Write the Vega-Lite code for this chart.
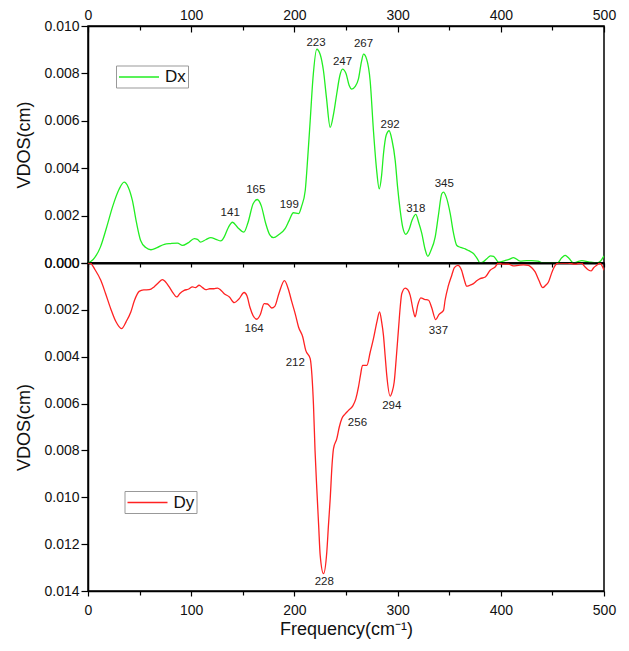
{
"$schema": "https://vega.github.io/schema/vega-lite/v6.json",
"background": "white",
"padding": {"left": 15, "top": 5, "right": 5, "bottom": 5},
"config": {
  "font": "Liberation Sans",
  "view": {"stroke": "black", "strokeWidth": 1.5},
  "axis": {"domainColor": "black", "tickColor": "black", "labelColor": "#111", "titleColor": "#111", "labelFont": "Liberation Sans", "titleFont": "Liberation Sans", "labelFontSize": 14, "titleFontSize": 18, "titleFontWeight": "normal", "grid": false, "domainWidth": 1.5, "tickWidth": 1.2},
  "legend": {"title": null, "orient": "none", "symbolType": "M-1,0H3.706", "symbolSize": 289, "symbolStrokeWidth": 1.5, "labelFontSize": 17, "labelFont": "Liberation Sans", "labelColor": "#111", "labelOffset": 28, "padding": 2, "strokeColor": "#999", "fillColor": "white"}
},
"datasets": {
  "vdos": [
    {"s":"Dx","f":0,"v":0},{"s":"Dx","f":5,"v":0.00015},{"s":"Dx","f":12,"v":0.00067},{"s":"Dx","f":18,"v":0.0015},{"s":"Dx","f":24,"v":0.0024},{"s":"Dx","f":30,"v":0.0031},{"s":"Dx","f":35,"v":0.00341},{"s":"Dx","f":39,"v":0.0032},{"s":"Dx","f":43,"v":0.00264},{"s":"Dx","f":47,"v":0.0017},{"s":"Dx","f":51,"v":0.00095},{"s":"Dx","f":56,"v":0.00065},{"s":"Dx","f":61,"v":0.00056},{"s":"Dx","f":67,"v":0.00065},{"s":"Dx","f":74,"v":0.00079},{"s":"Dx","f":80,"v":0.00082},{"s":"Dx","f":86.7,"v":0.00084},{"s":"Dx","f":91.6,"v":0.00074},{"s":"Dx","f":97,"v":0.00085},{"s":"Dx","f":103,"v":0.00103},{"s":"Dx","f":106,"v":0.001},{"s":"Dx","f":109,"v":0.00088},{"s":"Dx","f":114,"v":0.00098},{"s":"Dx","f":119,"v":0.00107},{"s":"Dx","f":124,"v":0.001},{"s":"Dx","f":128.7,"v":0.00093},{"s":"Dx","f":132,"v":0.0011},{"s":"Dx","f":136,"v":0.0015},{"s":"Dx","f":140,"v":0.00172},{"s":"Dx","f":145,"v":0.0015},{"s":"Dx","f":151,"v":0.0013},{"s":"Dx","f":155,"v":0.0017},{"s":"Dx","f":160,"v":0.0025},{"s":"Dx","f":164,"v":0.00268},{"s":"Dx","f":168,"v":0.0024},{"s":"Dx","f":172,"v":0.0017},{"s":"Dx","f":176,"v":0.0012},{"s":"Dx","f":179.7,"v":0.00107},{"s":"Dx","f":185,"v":0.0012},{"s":"Dx","f":191,"v":0.00145},{"s":"Dx","f":195,"v":0.0018},{"s":"Dx","f":199,"v":0.00212},{"s":"Dx","f":204,"v":0.00208},{"s":"Dx","f":207,"v":0.0024},{"s":"Dx","f":210.5,"v":0.00306},{"s":"Dx","f":213,"v":0.0045},{"s":"Dx","f":215.3,"v":0.006},{"s":"Dx","f":218,"v":0.0078},{"s":"Dx","f":221.7,"v":0.00902},{"s":"Dx","f":225,"v":0.0088},{"s":"Dx","f":228.2,"v":0.0081},{"s":"Dx","f":231,"v":0.007},{"s":"Dx","f":234.7,"v":0.00572},{"s":"Dx","f":238,"v":0.0063},{"s":"Dx","f":241,"v":0.00713},{"s":"Dx","f":244,"v":0.0079},{"s":"Dx","f":246.6,"v":0.00818},{"s":"Dx","f":250,"v":0.008},{"s":"Dx","f":253,"v":0.0075},{"s":"Dx","f":255.6,"v":0.00734},{"s":"Dx","f":259,"v":0.00745},{"s":"Dx","f":262,"v":0.00776},{"s":"Dx","f":265,"v":0.0085},{"s":"Dx","f":267,"v":0.00881},{"s":"Dx","f":270,"v":0.0086},{"s":"Dx","f":273.4,"v":0.00769},{"s":"Dx","f":276.6,"v":0.00558},{"s":"Dx","f":279.5,"v":0.004},{"s":"Dx","f":282.2,"v":0.00313},{"s":"Dx","f":284.5,"v":0.0037},{"s":"Dx","f":286.3,"v":0.0046},{"s":"Dx","f":289,"v":0.0054},{"s":"Dx","f":291.8,"v":0.00558},{"s":"Dx","f":294.5,"v":0.0052},{"s":"Dx","f":297.7,"v":0.00432},{"s":"Dx","f":300,"v":0.0032},{"s":"Dx","f":302.5,"v":0.00222},{"s":"Dx","f":305,"v":0.0015},{"s":"Dx","f":308,"v":0.00121},{"s":"Dx","f":311,"v":0.0014},{"s":"Dx","f":314,"v":0.0018},{"s":"Dx","f":317.6,"v":0.00205},{"s":"Dx","f":320.5,"v":0.0017},{"s":"Dx","f":323.5,"v":0.00124},{"s":"Dx","f":326.5,"v":0.0006},{"s":"Dx","f":329.3,"v":0.00028},{"s":"Dx","f":332,"v":0.0005},{"s":"Dx","f":336.4,"v":0.00109},{"s":"Dx","f":339.5,"v":0.002},{"s":"Dx","f":342.8,"v":0.00292},{"s":"Dx","f":344.5,"v":0.00299},{"s":"Dx","f":347,"v":0.0028},{"s":"Dx","f":351,"v":0.00208},{"s":"Dx","f":354,"v":0.0013},{"s":"Dx","f":357.4,"v":0.00074},{"s":"Dx","f":361,"v":0.00066},{"s":"Dx","f":365.5,"v":0.0006},{"s":"Dx","f":369,"v":0.00052},{"s":"Dx","f":373.5,"v":0.0004},{"s":"Dx","f":377,"v":0.0002},{"s":"Dx","f":380,"v":0},{"s":"Dx","f":383,"v":0.00005},{"s":"Dx","f":386.4,"v":0.00018},{"s":"Dx","f":390,"v":0.0003},{"s":"Dx","f":393,"v":0.00028},{"s":"Dx","f":397.8,"v":0.00004},{"s":"Dx","f":404,"v":0.0001},{"s":"Dx","f":408,"v":0.00015},{"s":"Dx","f":412.3,"v":0.00023},{"s":"Dx","f":418.7,"v":0.00008},{"s":"Dx","f":425,"v":0.0001},{"s":"Dx","f":430,"v":0.0001},{"s":"Dx","f":436,"v":0.00008},{"s":"Dx","f":441,"v":0},{"s":"Dx","f":448,"v":0},{"s":"Dx","f":455,"v":0},{"s":"Dx","f":459,"v":0.00022},{"s":"Dx","f":462.4,"v":0.00032},{"s":"Dx","f":466,"v":0.0002},{"s":"Dx","f":470.5,"v":0},{"s":"Dx","f":474,"v":0.00005},{"s":"Dx","f":478.6,"v":0.0001},{"s":"Dx","f":485,"v":0.00005},{"s":"Dx","f":493,"v":0},{"s":"Dx","f":497,"v":0.0001},{"s":"Dx","f":500,"v":0.0003},
    {"s":"Dy","f":0,"v":0},{"s":"Dy","f":2,"v":0},{"s":"Dy","f":7,"v":0.0003},{"s":"Dy","f":12.4,"v":0.00074},{"s":"Dy","f":17,"v":0.0013},{"s":"Dy","f":22,"v":0.00195},{"s":"Dy","f":27,"v":0.0025},{"s":"Dy","f":32.5,"v":0.0028},{"s":"Dy","f":37,"v":0.0025},{"s":"Dy","f":41.5,"v":0.00209},{"s":"Dy","f":45,"v":0.0016},{"s":"Dy","f":49.6,"v":0.00121},{"s":"Dy","f":54,"v":0.00115},{"s":"Dy","f":59.3,"v":0.00114},{"s":"Dy","f":64,"v":0.00102},{"s":"Dy","f":68,"v":0.00085},{"s":"Dy","f":72.2,"v":0.00071},{"s":"Dy","f":75,"v":0.0008},{"s":"Dy","f":78.7,"v":0.00102},{"s":"Dy","f":82,"v":0.00125},{"s":"Dy","f":86,"v":0.00145},{"s":"Dy","f":89,"v":0.0013},{"s":"Dy","f":93.2,"v":0.00117},{"s":"Dy","f":97,"v":0.00112},{"s":"Dy","f":101.3,"v":0.00102},{"s":"Dy","f":104,"v":0.00105},{"s":"Dy","f":107.7,"v":0.00095},{"s":"Dy","f":111,"v":0.00105},{"s":"Dy","f":114.2,"v":0.00114},{"s":"Dy","f":118,"v":0.0011},{"s":"Dy","f":122,"v":0.0011},{"s":"Dy","f":125.5,"v":0.00107},{"s":"Dy","f":128.5,"v":0.00115},{"s":"Dy","f":132,"v":0.00131},{"s":"Dy","f":137,"v":0.00145},{"s":"Dy","f":141.7,"v":0.00169},{"s":"Dy","f":146,"v":0.00155},{"s":"Dy","f":151.3,"v":0.00126},{"s":"Dy","f":154,"v":0.0014},{"s":"Dy","f":157,"v":0.0019},{"s":"Dy","f":160,"v":0.00225},{"s":"Dy","f":163.6,"v":0.0024},{"s":"Dy","f":167,"v":0.0022},{"s":"Dy","f":170.7,"v":0.00173},{"s":"Dy","f":174,"v":0.00175},{"s":"Dy","f":178,"v":0.00192},{"s":"Dy","f":181,"v":0.00185},{"s":"Dy","f":185,"v":0.0013},{"s":"Dy","f":190.4,"v":0.00075},{"s":"Dy","f":194,"v":0.0011},{"s":"Dy","f":197.5,"v":0.00166},{"s":"Dy","f":201,"v":0.0022},{"s":"Dy","f":204,"v":0.00273},{"s":"Dy","f":208.1,"v":0.00316},{"s":"Dy","f":211,"v":0.00373},{"s":"Dy","f":215.3,"v":0.00408},{"s":"Dy","f":217,"v":0.0048},{"s":"Dy","f":218.5,"v":0.00607},{"s":"Dy","f":220,"v":0.008},{"s":"Dy","f":221.7,"v":0.00963},{"s":"Dy","f":223.5,"v":0.0112},{"s":"Dy","f":225,"v":0.01248},{"s":"Dy","f":228.2,"v":0.01326},{"s":"Dy","f":231.4,"v":0.01233},{"s":"Dy","f":233,"v":0.0112},{"s":"Dy","f":234.7,"v":0.01006},{"s":"Dy","f":236.5,"v":0.0086},{"s":"Dy","f":237.9,"v":0.00792},{"s":"Dy","f":241.1,"v":0.0075},{"s":"Dy","f":243.5,"v":0.007},{"s":"Dy","f":246,"v":0.00664},{"s":"Dy","f":249,"v":0.00645},{"s":"Dy","f":252.4,"v":0.00629},{"s":"Dy","f":256.6,"v":0.0061},{"s":"Dy","f":259.5,"v":0.0058},{"s":"Dy","f":262.1,"v":0.00529},{"s":"Dy","f":264,"v":0.0048},{"s":"Dy","f":266,"v":0.00437},{"s":"Dy","f":270.2,"v":0.00437},{"s":"Dy","f":273.5,"v":0.0038},{"s":"Dy","f":276.6,"v":0.00323},{"s":"Dy","f":280,"v":0.0025},{"s":"Dy","f":282.5,"v":0.00209},{"s":"Dy","f":284.5,"v":0.0025},{"s":"Dy","f":286.3,"v":0.00309},{"s":"Dy","f":288,"v":0.004},{"s":"Dy","f":289.5,"v":0.00479},{"s":"Dy","f":292.8,"v":0.00568},{"s":"Dy","f":294.7,"v":0.0055},{"s":"Dy","f":296.7,"v":0.00508},{"s":"Dy","f":298.8,"v":0.004},{"s":"Dy","f":300.9,"v":0.0028},{"s":"Dy","f":302.5,"v":0.0019},{"s":"Dy","f":304,"v":0.00131},{"s":"Dy","f":307.4,"v":0.00107},{"s":"Dy","f":310,"v":0.00115},{"s":"Dy","f":312.2,"v":0.00138},{"s":"Dy","f":315,"v":0.002},{"s":"Dy","f":317,"v":0.0023},{"s":"Dy","f":319.5,"v":0.0018},{"s":"Dy","f":322.5,"v":0.00149},{"s":"Dy","f":326,"v":0.00155},{"s":"Dy","f":330,"v":0.00159},{"s":"Dy","f":333,"v":0.0019},{"s":"Dy","f":337,"v":0.00242},{"s":"Dy","f":340,"v":0.0022},{"s":"Dy","f":344.5,"v":0.00202},{"s":"Dy","f":346,"v":0.00159},{"s":"Dy","f":349,"v":0.001},{"s":"Dy","f":352.5,"v":0.00052},{"s":"Dy","f":355,"v":0.0002},{"s":"Dy","f":358.4,"v":0.0001},{"s":"Dy","f":362,"v":0.00031},{"s":"Dy","f":364.5,"v":0.0007},{"s":"Dy","f":367,"v":0.00099},{"s":"Dy","f":370,"v":0.00095},{"s":"Dy","f":373.5,"v":0.00088},{"s":"Dy","f":377,"v":0.00075},{"s":"Dy","f":380,"v":0.00067},{"s":"Dy","f":385,"v":0.0006},{"s":"Dy","f":389.7,"v":0.00031},{"s":"Dy","f":394.5,"v":0.00017},{"s":"Dy","f":397.8,"v":0},{"s":"Dy","f":402,"v":0.00005},{"s":"Dy","f":407.5,"v":0.00005},{"s":"Dy","f":412,"v":0.00012},{"s":"Dy","f":417,"v":0.0001},{"s":"Dy","f":422,"v":0.00008},{"s":"Dy","f":426.8,"v":0.0001},{"s":"Dy","f":430,"v":0.0002},{"s":"Dy","f":433.3,"v":0.00038},{"s":"Dy","f":437,"v":0.00075},{"s":"Dy","f":440.7,"v":0.00105},{"s":"Dy","f":443.5,"v":0.00095},{"s":"Dy","f":446.2,"v":0.00081},{"s":"Dy","f":449.5,"v":0.0004},{"s":"Dy","f":452.7,"v":0.0001},{"s":"Dy","f":456,"v":0},{"s":"Dy","f":465,"v":0},{"s":"Dy","f":472,"v":0.00005},{"s":"Dy","f":478,"v":0},{"s":"Dy","f":481.7,"v":0.00017},{"s":"Dy","f":485,"v":0.0003},{"s":"Dy","f":487.6,"v":0.00034},{"s":"Dy","f":490,"v":0.0002},{"s":"Dy","f":493,"v":0.0001},{"s":"Dy","f":496,"v":0},{"s":"Dy","f":498.5,"v":0.00015},{"s":"Dy","f":500,"v":0.00031}
  ],
  "peaks": [
    {"s":"Dx","f":137.8,"v":0.0021,"label":"141"},{"s":"Dx","f":162.6,"v":0.00306,"label":"165"},{"s":"Dx","f":195,"v":0.00246,"label":"199"},{"s":"Dx","f":221,"v":0.0093,"label":"223"},{"s":"Dx","f":246.6,"v":0.00849,"label":"247"},{"s":"Dx","f":267,"v":0.00923,"label":"267"},{"s":"Dx","f":292.8,"v":0.00584,"label":"292"},{"s":"Dx","f":317.6,"v":0.00229,"label":"318"},{"s":"Dx","f":345.2,"v":0.00334,"label":"345"},
    {"s":"Dy","f":161,"v":0.00283,"label":"164"},{"s":"Dy","f":200.8,"v":0.00427,"label":"212"},{"s":"Dy","f":228.9,"v":0.01361,"label":"228"},{"s":"Dy","f":261.1,"v":0.00681,"label":"256"},{"s":"Dy","f":294.4,"v":0.00612,"label":"294"},{"s":"Dy","f":339.6,"v":0.00292,"label":"337"}
  ]
},
"spacing": 0,
"bounds": "flush",
"resolve": {"scale": {"color": "independent"}, "legend": {"color": "independent"}},
"vconcat": [
  {
    "width": 516, "height": 237,
    "layer": [
      {
        "data": {"name": "vdos"},
        "transform": [{"filter": "datum.s == 'Dx'"}],
        "mark": {"type": "line", "interpolate": "monotone", "strokeWidth": 1.3, "clip": true},
        "encoding": {
          "x": {"field": "f", "type": "quantitative", "scale": {"domain": [0, 500], "nice": false, "zero": false},
            "axis": {"orient": "top", "title": null, "values": [0,50,100,150,200,250,300,350,400,450,500],
              "labelExpr": "datum.value % 100 == 0 ? datum.label : ''",
              "tickSize": {"condition": {"test": "datum.value % 100 == 0", "value": -6}, "value": -4},
              "labelPadding": 10, "labelFlush": false, "labelOverlap": false}},
          "y": {"field": "v", "type": "quantitative", "scale": {"domain": [0, 0.01], "nice": false, "zero": false},
            "axis": {"title": "VDOS(cm)", "values": [0,0.001,0.002,0.003,0.004,0.005,0.006,0.007,0.008,0.009,0.01],
              "labelExpr": "round(datum.value*1000) % 2 == 0 ? format(datum.value, '.3f') : ''",
              "tickSize": {"condition": {"test": "round(datum.value*1000) % 2 == 0", "value": 7}, "value": 4},
              "labelPadding": 2, "titlePadding": 10, "labelFlush": false, "labelOverlap": false}},
          "color": {"field": "s", "type": "nominal", "scale": {"domain": ["Dx"], "range": ["#22ee22"]},
            "legend": {"legendX": 28, "legendY": 39.5}}
        }
      },
      {
        "data": {"name": "peaks"},
        "transform": [{"filter": "datum.s == 'Dx'"}],
        "mark": {"type": "text", "fontSize": 11.5, "color": "#222", "baseline": "middle", "font": "Liberation Sans"},
        "encoding": {
          "x": {"field": "f", "type": "quantitative",
            "axis": {"orient": "bottom", "title": null, "labels": false, "values": [0,50,100,150,200,250,300,350,400,450,500], "tickSize": 4, "domainWidth": 2}},
          "y": {"field": "v", "type": "quantitative"},
          "text": {"field": "label"}
        }
      }
    ],
    "resolve": {"axis": {"x": "independent"}}
  },
  {
    "width": 516, "height": 328,
    "layer": [
      {
        "data": {"name": "vdos"},
        "transform": [{"filter": "datum.s == 'Dy'"}],
        "mark": {"type": "line", "interpolate": "monotone", "strokeWidth": 1.3, "clip": true},
        "encoding": {
          "x": {"field": "f", "type": "quantitative", "scale": {"domain": [0, 500], "nice": false, "zero": false},
            "axis": {"orient": "bottom", "title": "Frequency(cm⁻¹)", "values": [0,50,100,150,200,250,300,350,400,450,500],
              "labelExpr": "datum.value % 100 == 0 ? datum.label : ''",
              "tickSize": {"condition": {"test": "datum.value % 100 == 0", "value": 5}, "value": 4},
              "labelPadding": 7, "titlePadding": 3, "labelFlush": false, "labelOverlap": false}},
          "y": {"field": "v", "type": "quantitative", "scale": {"domain": [0, 0.014], "nice": false, "zero": false, "reverse": true},
            "axis": {"title": "VDOS(cm)", "values": [0,0.001,0.002,0.003,0.004,0.005,0.006,0.007,0.008,0.009,0.01,0.011,0.012,0.013,0.014],
              "labelExpr": "round(datum.value*1000) % 2 == 0 ? format(datum.value, '.3f') : ''",
              "tickSize": {"condition": {"test": "round(datum.value*1000) % 2 == 0", "value": 7}, "value": 4},
              "labelPadding": 2, "titlePadding": 10, "labelFlush": false, "labelOverlap": false}},
          "color": {"field": "s", "type": "nominal", "scale": {"domain": ["Dy"], "range": ["#ff2222"]},
            "legend": {"legendX": 36.5, "legendY": 228}}
        }
      },
      {
        "data": {"name": "peaks"},
        "transform": [{"filter": "datum.s == 'Dy'"}],
        "mark": {"type": "text", "fontSize": 11.5, "color": "#222", "baseline": "middle", "font": "Liberation Sans"},
        "encoding": {
          "x": {"field": "f", "type": "quantitative"},
          "y": {"field": "v", "type": "quantitative"},
          "text": {"field": "label"}
        }
      }
    ]
  }
]
}
